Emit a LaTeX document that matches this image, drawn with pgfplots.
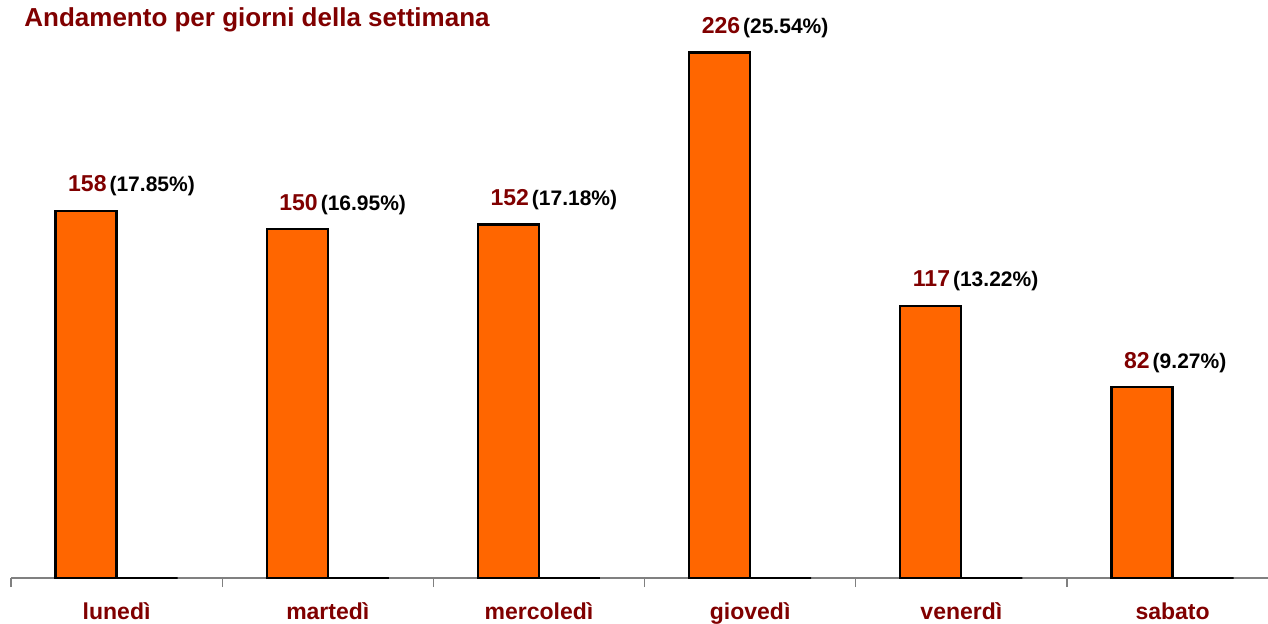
\documentclass[border=0pt]{standalone}
\usepackage{fontspec}
\setmainfont{Liberation Sans}
\usepackage{pgfplots}
\pgfplotsset{compat=1.18}
\definecolor{dred}{HTML}{800000}
\definecolor{barorange}{HTML}{FF6600}
\definecolor{axgray}{HTML}{808080}
\newcommand{\lab}[2]{{\fontsize{11.5}{13}\selectfont\textcolor{dred}{#1}}\hspace{1.5pt}{\fontsize{10.5}{12}\selectfont #2}}
\begin{document}
\begin{tikzpicture}
\useasboundingbox (0,0) rectangle (634pt,-312pt);
\node[anchor=base west, inner sep=0pt, text=dred, font=\bfseries\fontsize{13}{15}\selectfont] at (12pt,-13.5pt) {Andamento per giorni della settimana};
\begin{axis}[
  at={(5.5pt,-289pt)}, anchor=south west,
  scale only axis, width=628.5pt, height=289pt,
  xmin=-0.5, xmax=5.452, ymin=0, ymax=248.6,
  axis x line*=bottom, axis y line=none,
  x axis line style={draw=axgray, line width=0.6pt},
  xtick={0,1,2,3,4,5},
  xticklabels={lunedì, martedì, mercoledì, giovedì, venerdì, sabato},
  minor xtick={-0.5,0.5,1.5,2.5,3.5,4.5,5.5},
  major tick length=0pt, minor tick length=4.5pt,
  tick align=outside, xtick pos=bottom,
  every tick/.style={draw=axgray, line width=0.6pt},
  minor tick style={draw=axgray, line width=0.6pt},
  xticklabel style={anchor=base, yshift=-20.5pt, text=dred, font=\bfseries\fontsize{11.5}{13}\selectfont},
  ybar, bar width=30.5pt,
  clip=false,
]
\addplot+[ybar, bar shift=-15.25pt, fill=barorange, draw=black, line width=1.1pt,
  point meta=explicit symbolic, nodes near coords,
  every node near coord/.style={anchor=west, inner sep=0pt, xshift=-24.75pt, yshift=12.5pt, font=\bfseries, text=black}]
coordinates {
 (0,158) [\lab{158}{(17.85\%)}]
 (1,150) [\lab{150}{(16.95\%)}]
 (2,152) [\lab{152}{(17.18\%)}]
 (3,226) [\lab{226}{(25.54\%)}]
 (4,117) [\lab{117}{(13.22\%)}]
 (5,82)  [\lab{82}{(9.27\%)}]
};
\addplot+[ybar, bar shift=15.25pt, fill=black, draw=black, line width=1.2pt]
coordinates {(0,0) (1,0) (2,0) (3,0) (4,0) (5,0)};
\end{axis}
\end{tikzpicture}
\end{document}
